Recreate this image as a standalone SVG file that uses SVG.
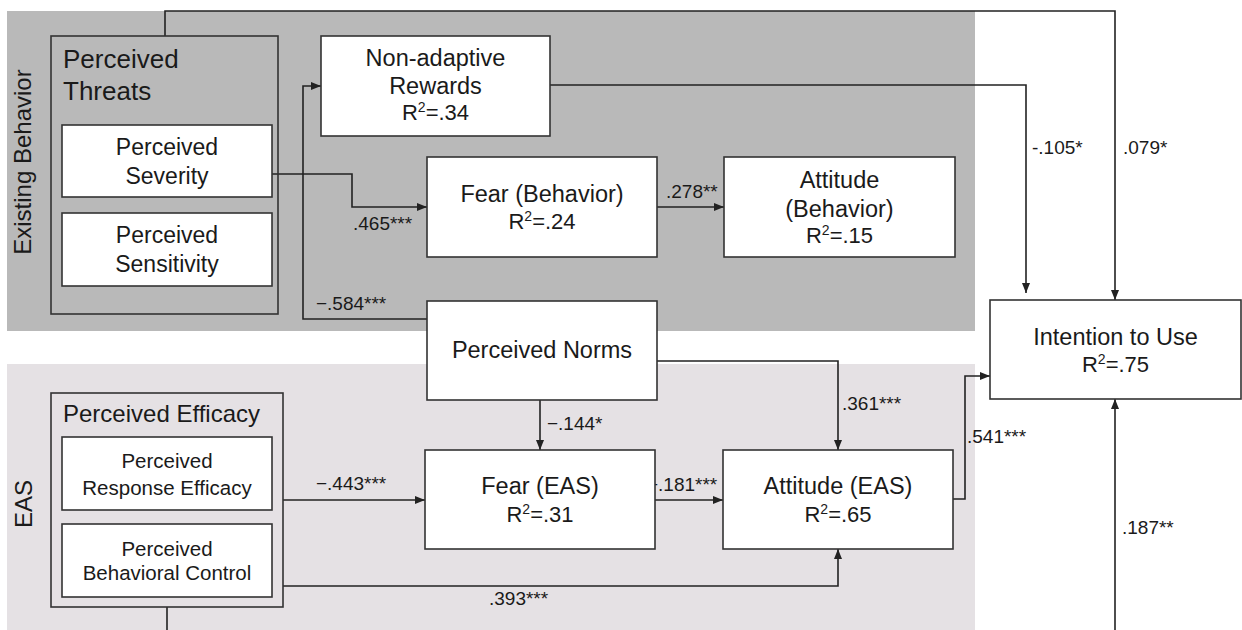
<svg xmlns="http://www.w3.org/2000/svg" width="1242" height="630" viewBox="0 0 1242 630">
<defs>
<marker id="arr" markerWidth="10" markerHeight="8" refX="10" refY="4" orient="auto" markerUnits="userSpaceOnUse"><path d="M0,0 L10,4 L0,8 z" fill="#222"/></marker>
<style>
text{font-family:"Liberation Sans",Arial,sans-serif;fill:#1a1a1a}
.box{fill:#fff;stroke:#333;stroke-width:1.6}
.grp{fill:none;stroke:#333;stroke-width:1.6}
.t{font-size:23.5px;text-anchor:middle}
.r{font-size:22px;text-anchor:middle}
.sup{font-size:14px}
.h{font-size:26px}
.h2{font-size:24px}
.i1{font-size:23px;text-anchor:middle}
.i2{font-size:20.5px;text-anchor:middle}
.lab{font-size:19px}
.side{font-size:24px;text-anchor:middle}
.c{fill:none;stroke:#222;stroke-width:1.6}
</style>
</defs>
<rect x="7" y="11" width="968" height="320" fill="#b9b9b9"/>
<rect x="7" y="364" width="968" height="266" fill="#e5e1e4"/>
<text class="side" transform="translate(31,162) rotate(-90)">Existing Behavior</text>
<text class="side" transform="translate(32,504) rotate(-90)">EAS</text>

<g id="connectors">
<path class="c" d="M165,36 V11 H1115 V300" marker-end="url(#arr)"/>
<path class="c" d="M550,85 H1026 V293" marker-end="url(#arr)"/>
<path class="c" d="M272,174 H352 V207 H427" marker-end="url(#arr)"/>
<path class="c" d="M427,319 H303 V86 H321" marker-end="url(#arr)"/>
<path class="c" d="M657,207 H724" marker-end="url(#arr)"/>
<path class="c" d="M540,400 V450" marker-end="url(#arr)"/>
<path class="c" d="M657,361 H838 V450" marker-end="url(#arr)"/>
<path class="c" d="M283,500 H425" marker-end="url(#arr)"/>
<path class="c" d="M655,500 H723" marker-end="url(#arr)"/>
<path class="c" d="M283,586 H838 V549" marker-end="url(#arr)"/>
<path class="c" d="M953,499 H965 V376 H990" marker-end="url(#arr)"/>
<path class="c" d="M167,607 V645 H1115 V399" marker-end="url(#arr)"/>
<text class="lab" x="1123" y="154">.079*</text>
<text class="lab" x="1032" y="154">-.105*</text>
<text class="lab" x="353" y="230">.465***</text>
<text class="lab" x="316" y="310">−.584***</text>
<text class="lab" x="666" y="198">.278**</text>
<text class="lab" x="547" y="430">−.144*</text>
<text class="lab" x="842" y="410">.361***</text>
<text class="lab" x="316" y="490">−.443***</text>
<text class="lab" x="647" y="491">−.181***</text>
<text class="lab" x="489" y="605">.393***</text>
<text class="lab" x="967" y="443">.541***</text>
<text class="lab" x="1122" y="534">.187**</text>
</g>

<g id="perceived-threats">
<rect class="grp" x="51" y="36" width="227" height="278"/>
<text class="h" x="63" y="68">Perceived</text>
<text class="h" x="63" y="100">Threats</text>
</g>
<g id="perceived-severity">
<rect class="box" x="62" y="125" width="210" height="72"/>
<text class="i1" x="167" y="155">Perceived</text>
<text class="i1" x="167" y="184">Severity</text>
</g>
<g id="perceived-sensitivity">
<rect class="box" x="62" y="213" width="210" height="73"/>
<text class="i1" x="167" y="243">Perceived</text>
<text class="i1" x="167" y="272">Sensitivity</text>
</g>
<g id="non-adaptive-rewards">
<rect class="box" x="321" y="36" width="229" height="100"/>
<text class="t" x="435.5" y="66">Non-adaptive</text>
<text class="t" x="435.5" y="94">Rewards</text>
<text class="r" x="435.5" y="120">R<tspan class="sup" dy="-8">2</tspan><tspan dy="8">=.34</tspan></text>
</g>
<g id="fear-behavior">
<rect class="box" x="427" y="157" width="230" height="100"/>
<text class="t" x="542" y="202">Fear (Behavior)</text>
<text class="r" x="542" y="229">R<tspan class="sup" dy="-8">2</tspan><tspan dy="8">=.24</tspan></text>
</g>
<g id="attitude-behavior">
<rect class="box" x="724" y="157" width="231" height="100"/>
<text class="t" x="839.5" y="188">Attitude</text>
<text class="t" x="839.5" y="217">(Behavior)</text>
<text class="r" x="839.5" y="243">R<tspan class="sup" dy="-8">2</tspan><tspan dy="8">=.15</tspan></text>
</g>
<g id="intention-to-use">
<rect class="box" x="990" y="300" width="251" height="99"/>
<text class="t" x="1115.5" y="345">Intention to Use</text>
<text class="r" x="1115.5" y="372">R<tspan class="sup" dy="-8">2</tspan><tspan dy="8">=.75</tspan></text>
</g>
<g id="perceived-norms">
<rect class="box" x="427" y="301" width="230" height="99"/>
<text class="t" x="542" y="358">Perceived Norms</text>
</g>
<g id="fear-eas">
<rect class="box" x="425" y="450" width="230" height="99"/>
<text class="t" x="540" y="494">Fear (EAS)</text>
<text class="r" x="540" y="522">R<tspan class="sup" dy="-8">2</tspan><tspan dy="8">=.31</tspan></text>
</g>
<g id="attitude-eas">
<rect class="box" x="723" y="450" width="230" height="99"/>
<text class="t" x="838" y="494">Attitude (EAS)</text>
<text class="r" x="838" y="522">R<tspan class="sup" dy="-8">2</tspan><tspan dy="8">=.65</tspan></text>
</g>
<g id="perceived-efficacy">
<rect class="grp" x="51" y="393" width="232" height="214"/>
<text class="h2" x="63" y="422">Perceived Efficacy</text>
</g>
<g id="perceived-response-efficacy">
<rect class="box" x="62" y="437" width="210" height="73"/>
<text class="i2" x="167" y="468">Perceived</text>
<text class="i2" x="167" y="495">Response Efficacy</text>
</g>
<g id="perceived-behavioral-control">
<rect class="box" x="62" y="524" width="210" height="73"/>
<text class="i2" x="167" y="556">Perceived</text>
<text class="i2" x="167" y="580">Behavioral Control</text>
</g>
</svg>
